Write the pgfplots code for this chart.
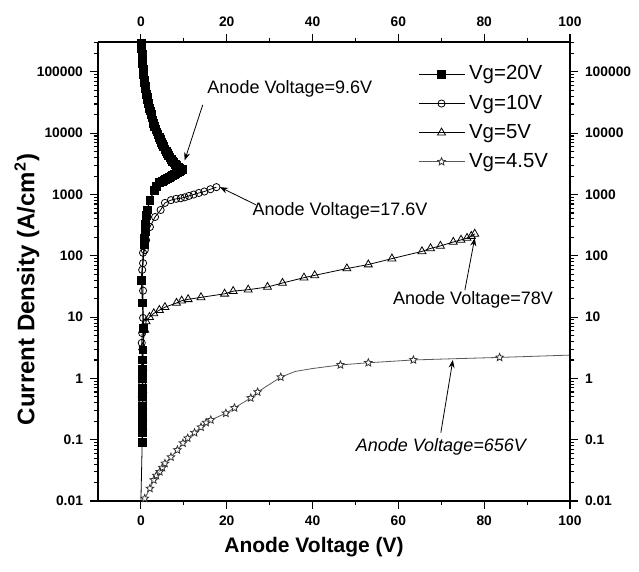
\documentclass[border=0pt]{standalone}
\usepackage{fontspec}
\setmainfont{Liberation Sans}
\usepackage{pgfplots}
\pgfplotsset{compat=1.18}
\usetikzlibrary{arrows.meta}

% five-point outline star
\pgfdeclareplotmark{ostar}{%
  \pgfpathmoveto{\pgfpointpolar{90}{\pgfplotmarksize}}%
  \pgfpathlineto{\pgfpointpolar{126}{0.45\pgfplotmarksize}}%
  \pgfpathlineto{\pgfpointpolar{162}{\pgfplotmarksize}}%
  \pgfpathlineto{\pgfpointpolar{198}{0.45\pgfplotmarksize}}%
  \pgfpathlineto{\pgfpointpolar{234}{\pgfplotmarksize}}%
  \pgfpathlineto{\pgfpointpolar{270}{0.45\pgfplotmarksize}}%
  \pgfpathlineto{\pgfpointpolar{306}{\pgfplotmarksize}}%
  \pgfpathlineto{\pgfpointpolar{342}{0.45\pgfplotmarksize}}%
  \pgfpathlineto{\pgfpointpolar{18}{\pgfplotmarksize}}%
  \pgfpathlineto{\pgfpointpolar{54}{0.45\pgfplotmarksize}}%
  \pgfpathclose
  \pgfusepathqfillstroke}

\pgfplotsset{
  width=236pt, height=229.5pt, scale only axis,
  xmin=-10, xmax=100, ymin=0.01, ymax=3.08e5,
  xtick={0,20,40,60,80,100}, xticklabels={0,20,40,60,80,100},
  minor xtick={10,30,50,70,90},
  ytick={0.01,0.1,1,10,100,1000,10000,100000},
  yticklabels={0.01,0.1,1,10,100,1000,10000,100000},
  minor ytick={0.02,0.03,0.04,0.05,0.06,0.07,0.08,0.09,
    0.2,0.3,0.4,0.5,0.6,0.7,0.8,0.9,2,3,4,5,6,7,8,9,
    20,30,40,50,60,70,80,90,200,300,400,500,600,700,800,900,
    2000,3000,4000,5000,6000,7000,8000,9000,
    20000,30000,40000,50000,60000,70000,80000,90000,200000,300000},
  tick align=outside,
  major tick length=4pt, minor tick length=2.2pt,
  tick style={black, line width=0.55pt},
  axis line style={line width=0.7pt},
  tick label style={font=\bfseries\fontsize{6.9}{8}\selectfont},
  legend image code/.code={\draw[#1, mark indices={2}]
    plot coordinates {(0pt,0pt)(11.5pt,0pt)(23pt,0pt)};},
}

\begin{document}
\begin{tikzpicture}
\begin{semilogyaxis}[name=main,
  axis x line*=bottom, axis y line*=left,
  clip=false,
  xlabel={\bfseries Anode Voltage (V)},
  ylabel={\bfseries Current Density (A/cm$^{\mathbf{2}}$)},
  every axis x label/.style={at={(axis description cs:0.4576,-0.1002)}, anchor=center,
    font=\fontsize{10.5}{12}\selectfont},
  every axis y label/.style={at={(axis description cs:-0.1504,0.4608)}, anchor=center, rotate=90,
    font=\fontsize{12}{14}\selectfont},
  legend style={at={(axis description cs:0.677,0.958)}, anchor=north west,
    draw=none, fill=none, font=\fontsize{10.2}{11}\selectfont,
    row sep=2pt, inner sep=0pt},
  legend cell align=left,
]
% Vg = 20 V
\addplot[black, line width=0.6pt, mark=square*, mark size=1.9pt] coordinates {
(0.1,2.9e5) (0.15,2.6e5) (0.2,2.4e5) (0.25,2.1e5) (0.3,1.9e5) (0.35,1.7e5)
(0.4,1.5e5) (0.45,1.35e5) (0.5,1.2e5) (0.55,1.1e5) (0.6,1.0e5) (0.65,9.1e4)
(0.7,8.2e4) (0.8,7.3e4) (0.9,6.6e4) (1.0,5.9e4) (1.1,5.3e4) (1.2,4.8e4)
(1.3,4.3e4) (1.45,3.9e4) (1.6,3.5e4) (1.75,3.1e4) (1.9,2.8e4) (2.05,2.55e4)
(2.2,2.3e4) (2.4,2.05e4) (2.6,1.8e4) (2.8,1.6e4) (3.0,1.45e4) (3.25,1.3e4)
(3.5,1.15e4) (3.75,1.05e4) (4.0,9500) (4.25,8600) (4.5,7800) (4.75,7100)
(5.0,6500) (5.3,6000) (5.6,5500) (5.9,5100) (6.2,4700) (6.5,4300)
(6.8,4000) (7.1,3750) (7.4,3500) (7.7,3300) (8.0,3100) (8.3,2950)
(8.6,2800) (8.85,2720) (9.1,2650) (9.35,2600) (9.6,2550) (9.3,2450)
(9.0,2350) (8.6,2270) (8.2,2200) (7.8,2120) (7.4,2050) (7.0,1970)
(6.6,1900) (6.2,1820) (5.8,1750) (5.4,1700) (5.0,1650) (4.3,1550)
(3.6,1350) (3.1,1170) (2.1,810) (1.5,560) (1.3,450) (1.1,330) (1.0,250)
(0.9,190) (0.8,150) (0.1,40) (0.4,17) (0.6,6.6) (0.5,2.9) (0.4,2.0)
(0.4,1.4) (0.4,1.0) (0.4,0.7) (0.4,0.5) (0.4,0.35) (0.3,0.25) (0.3,0.18)
(0.3,0.13) (0.3,0.09)
};
\addlegendentry{Vg=20V}
% Vg = 10 V
\addplot[black, line width=0.4pt, mark=o, mark size=1.8pt,
  mark options={fill=white}] coordinates {
(0.2,0.5) (0.3,0.8) (0.3,1.3) (0.3,2.0) (0.2,3.8) (0.3,5.5) (0.5,9.7)
(0.5,27) (0.3,59) (0.5,76) (0.5,112) (0.9,124) (1.2,180) (2.1,295)
(3.3,430) (4.6,560) (5.6,730) (7.0,810) (8.2,850) (9.3,870) (10.2,900)
(11.2,950) (12.3,1000) (13.5,1060) (14.8,1120) (16.2,1220) (17.6,1320)
};
\addlegendentry{Vg=10V}
% Vg = 5 V
\addplot[black, line width=0.4pt, mark=triangle, mark size=2.3pt,
  mark options={fill=white}] coordinates {
(0.4,0.16) (0.4,0.23) (0.4,0.35) (0.4,0.45) (0.4,0.65) (0.4,0.93) (0.4,1.5)
(0.4,2.0) (0.4,3.2) (0.9,6.2) (1.2,8.5) (2.0,10) (3.0,11.5) (4.3,13)
(5.6,14.5) (8.3,17) (9.5,18.5) (11,19.5) (14,21) (19.5,24) (21.5,26.5)
(25,28) (29.5,31) (33,36) (38,44) (40.5,48) (48,62) (53,72) (58.5,90)
(65.5,118) (67.5,132) (69.8,145) (72.8,168) (74.6,182) (76,195) (77,210) (77.8,228)
};
\addlegendentry{Vg=5V}
% Vg = 4.5 V (some points of the line carry no mark)
\addplot[black!65, line width=0.4pt, mark=ostar, mark size=2pt,
  mark indices={1,2,3,4,5,6,7,8,9,10,11,12,13,14,15,16,17,18,19,20,23,24,25,27},
  mark options={fill=white, draw=black!80}] coordinates {
(0.9,0.011) (2.1,0.016) (3.0,0.022) (3.6,0.026) (4.4,0.030) (5.0,0.035)
(5.6,0.041) (7.0,0.052) (8.5,0.068) (9.8,0.088) (10.9,0.106) (12.5,0.13)
(14.0,0.16) (15.2,0.19) (16.3,0.21) (19.8,0.27) (21.8,0.33) (25.6,0.48)
(27.2,0.6) (32.6,1.05) (36,1.3) (40,1.45) (46.5,1.66) (53,1.8) (63.5,2.0)
(73.5,2.1) (83.6,2.2) (92,2.3) (100,2.4)
};
\addlegendentry{Vg=4.5V}
\addplot[black, line width=0.4pt, forget plot] coordinates {(0,0.01) (0.3,0.09)};

% annotations
\node[font=\fontsize{9}{10}\selectfont] at (axis cs:34.7,5.2e4) {Anode Voltage=9.6V};
\draw[-{Stealth[length=4pt,width=3pt]}, line width=0.4pt]
  (axis cs:14.4,2.9e4) -- (axis cs:10.2,3600);
\node[font=\fontsize{9}{10}\selectfont] at (axis cs:46.4,540) {Anode Voltage=17.6V};
\draw[-{Stealth[length=4pt,width=3pt]}, line width=0.4pt]
  (axis cs:26.8,680) -- (axis cs:18.4,1320);
\node[font=\fontsize{9}{10}\selectfont] at (axis cs:77.4,19) {Anode Voltage=78V};
\draw[-{Stealth[length=4pt,width=3pt]}, line width=0.4pt]
  (axis cs:75.5,27.5) -- (axis cs:77.8,195);
\node[font=\itshape\fontsize{9}{10}\selectfont] at (axis cs:69.9,0.076) {Anode Voltage=656V};
\draw[-{Stealth[length=4pt,width=3pt]}, line width=0.4pt]
  (axis cs:69.9,0.13) -- (axis cs:72.7,2.0);
\end{semilogyaxis}

\begin{semilogyaxis}[axis x line*=top, axis y line*=right]
\addplot[draw=none] coordinates {(0,1)};
\end{semilogyaxis}

\pgfresetboundingbox
\path ([shift={(-49pt,-35.5pt)}]main.south west) rectangle ([shift={(34.5pt,21pt)}]main.north east);
\end{tikzpicture}
\end{document}
